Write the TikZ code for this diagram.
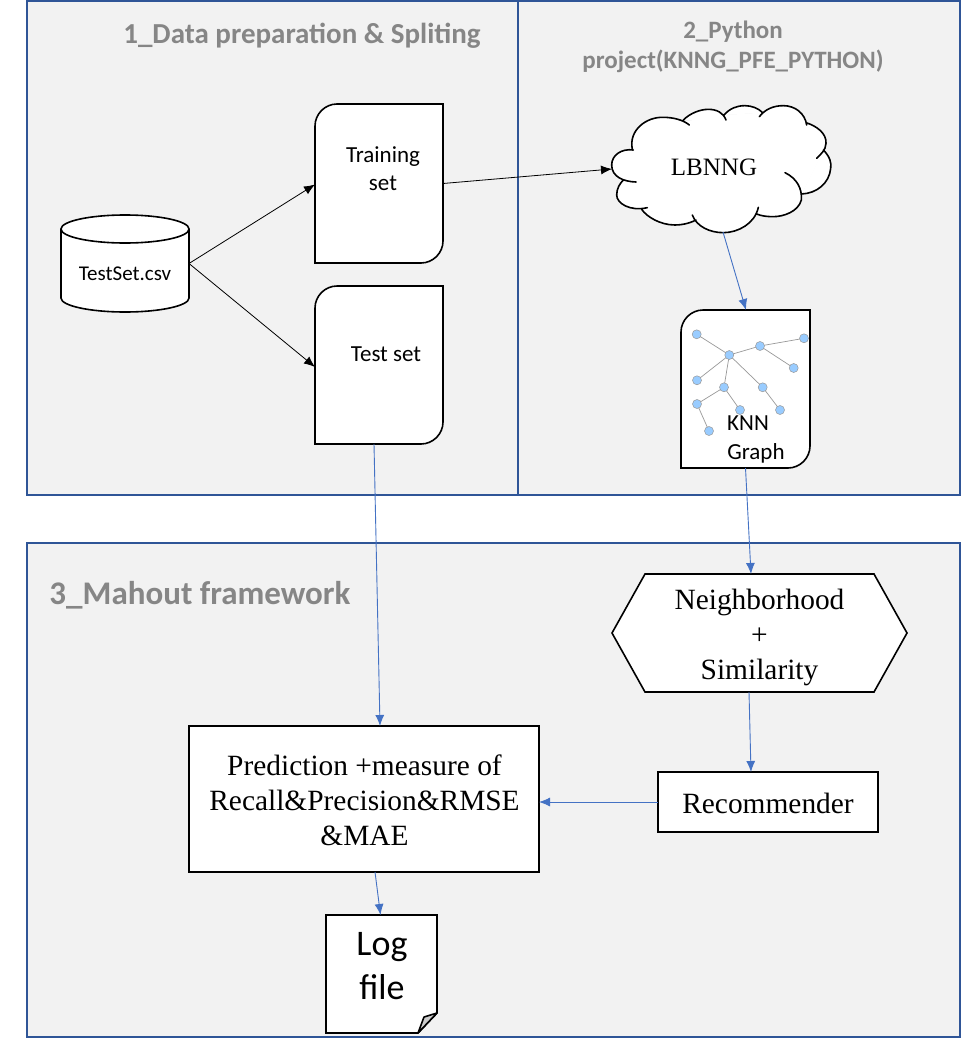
\documentclass[tikz,border=0pt]{standalone}
\usepackage{fontspec}
\setmainfont{Liberation Serif}
\newfontfamily\calibri{Carlito}
\usetikzlibrary{positioning}
\usetikzlibrary{calc}
\usetikzlibrary{arrows.meta}
\definecolor{panelBlue}{HTML}{2F5597}
\definecolor{panelFill}{HTML}{F2F2F2}
\definecolor{linkBlue}{HTML}{4472C4}
\definecolor{titleGray}{HTML}{868686}
\definecolor{dotBlue}{HTML}{99CCFF}
\tikzset{
  x=1pt,y=-1pt,
  every node/.style={inner sep=0pt,outer sep=0pt}
}
\tikzstyle{panel}=[draw=panelBlue,fill=panelFill,line width=1.8pt]
\tikzstyle{title}=[text=titleGray,font=\calibri\bfseries\fontsize{29}{30}\selectfont,align=center]
\tikzstyle{shapeline}=[draw=black,fill=white,line width=1.6pt]
\tikzstyle{box}=[shapeline,rectangle]
\tikzstyle{slot}=[rectangle]
\tikzstyle{caption}=[font=\calibri\fontsize{23}{28}\selectfont,align=center]
\tikzstyle{serifcaption}=[font=\fontsize{29.4}{35}\selectfont,align=center]
\tikzstyle{blackarrow}=[-{Latex[length=11pt,width=9pt]},line width=0.8pt,draw=black]
\tikzstyle{bluearrow}=[-{Latex[length=11pt,width=9pt]},line width=0.9pt,draw=linkBlue]
\tikzstyle{dot}=[circle,draw=black!40,fill=dotBlue,line width=0.5pt,minimum size=9pt]
\tikzstyle{twig}=[draw=black!40,line width=0.7pt]
\newcommand{\paperShape}[1]{
    \path[shapeline] (#1.north east) -- ($(#1.south east)+(0,-22)$)
        .. controls ($(#1.south east)+(0,-10)$) and ($(#1.south east)+(-10,0)$) .. ($(#1.south east)+(-22,0)$)
        -- (#1.south west) -- ($(#1.north west)+(0,22)$)
        .. controls ($(#1.north west)+(0,10)$) and ($(#1.north west)+(10,0)$) .. ($(#1.north west)+(22,0)$)
        -- cycle;
}
\def\cloudArcs{
    (108,246) .. controls (70,245) and (35,230) .. (35,195) .. controls (35,165) and (65,145) .. (100,150)
    (97,148) .. controls (85,90) and (140,50) .. (190,52) .. controls (220,52) and (250,60) .. (268,75)
    (250,60) .. controls (270,40) and (300,28) .. (325,28) .. controls (350,28) and (370,38) .. (378,60)
    (372,45) .. controls (390,25) and (410,17) .. (435,17) .. controls (455,17) and (475,25) .. (488,38)
    (478,50) .. controls (495,28) and (520,17) .. (550,17) .. controls (585,17) and (615,40) .. (620,75)
    (618,68) .. controls (650,78) and (680,100) .. (678,130) .. controls (678,150) and (660,165) .. (650,175)
    (670,150) .. controls (690,170) and (695,190) .. (692,205) .. controls (688,250) and (650,280) .. (605,282)
    (555,218) .. controls (590,235) and (607,265) .. (604,300) .. controls (595,335) and (550,350) .. (520,350) .. controls (500,350) and (485,348) .. (470,342)
    (475,322) .. controls (465,370) and (415,398) .. (370,398) .. controls (330,398) and (290,380) .. (277,345)
    (288,360) .. controls (265,372) and (240,375) .. (225,375) .. controls (180,375) and (140,350) .. (125,328)
    (142,323) .. controls (90,335) and (50,310) .. (50,285) .. controls (50,265) and (60,250) .. (70,240)
}
\begin{document}
\begin{tikzpicture}
    \useasboundingbox (0,0) rectangle (962,1038);
    \fill[white] (0,0) rectangle (962,1038);

    % panels
    \node[panel,slot,minimum width=491pt,minimum height=494pt,anchor=north west] (prep) at (27,1) {};
    \node[panel,slot,minimum width=442pt,minimum height=494pt,anchor=north west] (python) at (518,1) {};
    \node[panel,slot,minimum width=933pt,minimum height=494pt,anchor=north west] (mahout) at (27,543) {};
    \node[title] (prep-title) at (302,36) {1\_Data preparation \& Spliting};
    \node[title,font=\calibri\bfseries\fontsize{25}{30}\selectfont] (python-title) at (733,47) {2\_Python\\project(KNNG\_PFE\_PYTHON)};
    \node[title,font=\calibri\bfseries\fontsize{33}{36}\selectfont] (mahout-title) at (200,595) {3\_Mahout framework};

    % data
    \node[slot,minimum width=128pt,minimum height=97pt] (csv) at (125,263.5) {};
    \draw[shapeline] (csv.north west) ++(0,14) arc[start angle=180,end angle=0,x radius=64,y radius=-14]
        -- ++(0,69) arc[start angle=0,end angle=-180,x radius=64,y radius=-14] -- cycle;
    \draw[shapeline,fill=none] (csv.north west) ++(0,14) arc[start angle=180,end angle=360,x radius=64,y radius=-14];
    \node[caption,font=\calibri\fontsize{21}{24}\selectfont] (csv-text) at (125,274) {TestSet.csv};

    \node[slot,minimum width=128pt,minimum height=159pt] (train) at (379,183.5) {};
    \paperShape{train}
    \node[caption] (train-text) at (383,169) {Training\\set};

    \node[slot,minimum width=128pt,minimum height=158pt] (test) at (379,365) {};
    \paperShape{test}
    \node[caption] (test-text) at (386,354) {Test set};

    % cloud
    \begin{scope}[shift={(600,100)},scale=1/3]
        \fill[white] (97,148) -- (250,65) -- (375,45) -- (485,38) -- (618,70) -- (672,150) -- (605,282)
            -- (470,342) -- (285,362) -- (125,328) -- (60,245) -- cycle;
        \fill[white] \cloudArcs;
        \draw[black,line width=1.6pt,line cap=round] \cloudArcs;
    \end{scope}
    \node[font=\fontsize{25}{28}\selectfont] (lbnng) at (714,167) {LBNNG};
    \coordinate (lbnng-west) at (612,169);
    \coordinate (lbnng-south) at (723,232);

    % knn graph
    \node[slot,minimum width=129pt,minimum height=158pt] (knn) at (745.5,389) {};
    \paperShape{knn}
    \foreach \name/\pos in {a/{696.7,334.3},hub/{729.3,355},b/{760,346},c/{804,338.3},d/{793.7,368},e/{697,380.3},f/{724,387.3},g/{762.7,387.3},h/{697,404},i/{740,410},j/{780,410},k/{709,431}}
        \coordinate (pos-\name) at (\pos);
    \foreach \from/\to in {hub/a,hub/b,b/c,b/d,hub/e,hub/f,hub/g,f/h,f/i,h/k,g/j}
        \draw[twig] (pos-\from) -- (pos-\to);
    \foreach \name in {a,hub,b,c,d,e,f,g,h,i,j,k}
        \node[dot] (dot-\name) at (pos-\name) {};
    \node[caption] (knn-text-up) at (748,423) {KNN};
    \node[caption] (knn-text-down) at (756,453) {Graph};

    % mahout
    \node[slot,minimum width=295pt,minimum height=118pt] (hood) at (759.5,633) {};
    \draw[shapeline] (hood.west) -- ($(hood.north west)+(33,0)$) -- ($(hood.north east)+(-33,0)$) -- (hood.east)
        -- ($(hood.south east)+(-33,0)$) -- ($(hood.south west)+(33,0)$) -- cycle;
    \node[serifcaption] (hood-text) at (759.5,637) {Neighborhood\\+\\Similarity};

    \node[box,minimum width=220pt,minimum height=60pt] (rec) at (768,802) {};
    \node[serifcaption] (rec-text) at (768,803) {Recommender};

    \node[box,minimum width=350pt,minimum height=146pt] (pred) at (364,799) {};
    \node[serifcaption] (pred-text) at (364.5,800) {Prediction +measure of\\Recall\&Precision\&RMSE\\\&MAE};

    \node[slot,minimum width=111pt,minimum height=118pt] (log) at (381.5,974) {};
    \draw[shapeline] (log.north west) -- (log.north east) -- ($(log.south east)+(0,-20)$)
        -- ($(log.south east)+(-19,0)$) -- (log.south west) -- cycle;
    \draw[shapeline,fill=black!20,line join=round] ($(log.south east)+(-19,0)$) -- ($(log.south east)+(-13,-16)$)
        -- ($(log.south east)+(0,-20)$) -- cycle;
    \node[caption,font=\calibri\fontsize{36}{44}\selectfont] (log-text) at (382,966) {Log\\file};

    % connectors
    \draw[blackarrow] (csv.east) -- ($(train.west)+(0,1)$);
    \draw[blackarrow] (csv.east) -- ($(test.west)+(0,2)$);
    \draw[blackarrow] (train.east) -- (lbnng-west);
    \draw[bluearrow] (lbnng-south) -- ($(knn.north)+(0.5,0)$);
    \draw[bluearrow] ($(test.south)+(-5,0)$) -- ($(pred.north)+(16,0)$);
    \draw[bluearrow] (knn.south) -- ($(hood.north)+(-8.5,0)$);
    \draw[bluearrow] ($(hood.south)+(-10.5,0)$) -- ($(rec.north)+(-17,0)$);
    \draw[bluearrow] (rec.west) -- (pred.east |- rec.west);
    \draw[bluearrow] ($(pred.south)+(11,0)$) -- ($(log.north)+(-1,0)$);
\end{tikzpicture}
\end{document}
